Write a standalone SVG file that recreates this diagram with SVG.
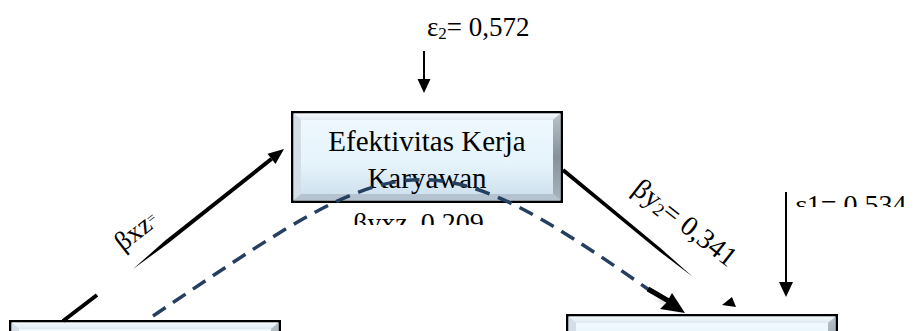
<svg xmlns="http://www.w3.org/2000/svg" width="917" height="331" viewBox="0 0 917 331">
  <style>
    .lbl { font-family: "Liberation Serif", "Times New Roman", serif; fill: #000; }
    .node-text { font-family: "Liberation Serif", "Times New Roman", serif; font-size: 29px; fill: #000; text-anchor: middle; }
    .dash { fill: none; stroke: #243F60; stroke-width: 3.5; stroke-dasharray: 15 9; }
    .arrowline { stroke: #000; stroke-width: 2; fill: none; }
  </style>
  <defs>
    <linearGradient id="face" x1="0" y1="0" x2="0" y2="1">
      <stop offset="0" stop-color="#eef8fe"/>
      <stop offset="0.6" stop-color="#e5f3fb"/>
      <stop offset="1" stop-color="#d0e2ee"/>
    </linearGradient>
    <linearGradient id="bevTop" x1="0" y1="0" x2="0" y2="1">
      <stop offset="0" stop-color="#f5f9fc"/>
      <stop offset="1" stop-color="#dfe9f0"/>
    </linearGradient>
    <linearGradient id="bevRight" x1="0" y1="0" x2="0" y2="1">
      <stop offset="0" stop-color="#b8c2c9"/>
      <stop offset="0.5" stop-color="#86919a"/>
      <stop offset="1" stop-color="#a9b4bc"/>
    </linearGradient>
    <symbol id="bevelbox" overflow="visible">
      <rect x="1.25" y="1.25" width="269.5" height="89.5" fill="#cdd9e2" stroke="#000" stroke-width="2.5"/>
      <polygon points="2.5,2.5 269.5,2.5 262,9 10,9" fill="url(#bevTop)"/>
      <polygon points="2.5,2.5 10,9 10,83 2.5,89.5" fill="#d3dee6"/>
      <polygon points="269.5,2.5 269.5,89.5 262,83 262,9" fill="url(#bevRight)"/>
      <polygon points="2.5,89.5 269.5,89.5 262,83 10,83" fill="#b4c3cf"/>
      <rect x="10" y="9" width="252" height="74" fill="url(#face)"/>
    </symbol>
    <clipPath id="clipB">
      <rect x="0" y="0" width="917" height="225"/>
    </clipPath>
    <clipPath id="clipE1">
      <rect x="0" y="0" width="917" height="207"/>
    </clipPath>
    <filter id="soft" x="-20%" y="-20%" width="140%" height="140%">
      <feGaussianBlur stdDeviation="1.5"/>
    </filter>
  </defs>

  <rect width="917" height="331" fill="#fff"/>

  <g id="node-efektivitas">
    <use href="#bevelbox" x="291" y="111"/>
    <text class="node-text" x="427" y="151">Efektivitas Kerja</text>
    <text class="node-text" x="427" y="188">Karyawan</text>
  </g>

  <g id="node-left">
    <use href="#bevelbox" x="9" y="320"/>
  </g>

  <g id="node-right">
    <use href="#bevelbox" x="566" y="314"/>
  </g>

  <g id="connectors">
    <!-- epsilon 2 arrow -->
    <line class="arrowline" x1="424" y1="51" x2="424" y2="80"/>
    <polygon points="417.5,79 430.5,79 424,93" fill="#000"/>
    <!-- epsilon 1 arrow -->
    <line class="arrowline" x1="786" y1="192" x2="786" y2="284"/>
    <polygon points="779,282 793,282 786,297" fill="#000"/>

    <!-- beta xz arrow -->
    <line x1="63" y1="321" x2="97" y2="295" stroke="#000" stroke-width="4"/>
    <polygon points="133,269 167.6,243.8 272.7,160.5 270.3,157.3 165.2,240.6" fill="#000"/>
    <polygon points="284,149 275.5,164 267.5,153.8" fill="#000"/>

    <!-- beta y2 line -->
    <polygon points="561.7,171.5 564.3,168.5 661.5,249.1 693,277 659.5,251.5" fill="#000"/>
    <polygon points="722,305 736,307 732,297" fill="#000"/>

    <!-- indirect dashed path -->
    <polygon points="653,298 685,316 668,304" fill="#777" opacity="0.5" filter="url(#soft)"/>
    <path class="dash" d="M153,316 C400,150 420,128 652,292"/>
    <path d="M648,289 L672,303" stroke="#000" stroke-width="5"/>
    <polygon points="685,313 660,309 667,302 672,293" fill="#000"/>
  </g>

  <g id="labels">
    <text class="lbl" font-size="27" x="427" y="36">ε<tspan font-size="17" dy="3">2</tspan><tspan dy="-3">= 0,572</tspan></text>
    <text class="lbl" font-size="27" transform="translate(123,252) rotate(-38)">βxz<tspan font-size="14" dy="-5">=</tspan></text>
    <text class="lbl" font-size="28" transform="translate(631,192) rotate(38)">βy<tspan font-size="18" dy="3">2</tspan><tspan dy="-3">= 0,341</tspan></text>
    <g clip-path="url(#clipB)">
      <text class="lbl" font-size="28" x="353" y="232">βyxz<tspan font-size="16" dy="8">= </tspan><tspan dy="-8">0,209</tspan></text>
    </g>
    <g clip-path="url(#clipE1)">
      <text class="lbl" font-size="28" x="795" y="214">ε1= 0,534</text>
    </g>
  </g>
</svg>
